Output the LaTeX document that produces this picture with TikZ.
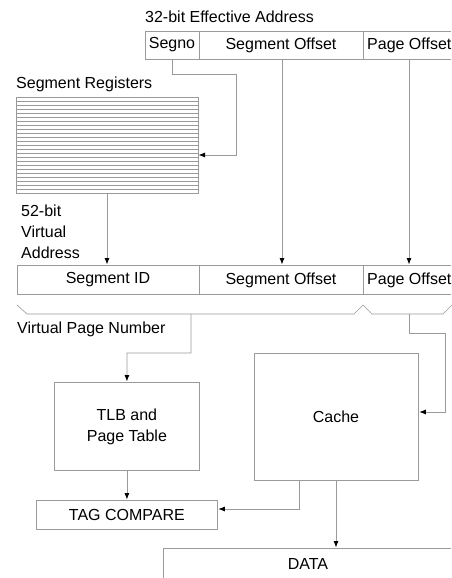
\documentclass[tikz,border=0pt]{standalone}
\usepackage{fontspec}
\setmainfont{Liberation Sans}
\usetikzlibrary{arrows.meta}
\definecolor{ln}{HTML}{9A9A9A}
\begin{document}
\begin{tikzpicture}[x=1pt,y=-1pt,
  wire/.style={draw=ln,line width=0.8pt},
  arr/.style={wire,-{Latex[length=6.5pt,width=5pt,color=black,fill=black]},shorten >=0.5pt},
  lbl/.style={inner sep=0pt,font=\fontsize{16}{18}\selectfont,text=black},
  boxed/.style={draw=ln,line width=0.8pt,inner sep=0pt}]
\useasboundingbox (0,0) rectangle (451,578);
% effective address
\node[lbl,anchor=west] (eatitle) at (145,17) {32-bit Effective Address};
\draw[wire] (451,31) -- (145,31) -- (145,59) -- (451,59);
\draw[wire] (199,31) -- (199,59) (363,31) -- (363,59);
\coordinate (eaSeg) at (172,59);
\coordinate (eaOff) at (282,59);
\coordinate (eaPO) at (409,59);
\node[lbl] (segno) at (172,45) {Segno};
\node[lbl] (eaoffset) at (281,45) {Segment Offset};
\node[lbl,anchor=west] (eapage) at (367,45) {Page Offset};
% segment registers
\node[lbl,anchor=west] (srtitle) at (16,84) {Segment Registers};
\node[boxed,minimum width=182pt,minimum height=96pt,anchor=north west] (regs) at (16,97) {};
\foreach \i in {1,...,23} \draw[wire,line width=0.6pt] (16,97+4*\i) -- (198,97+4*\i);
\coordinate (regin) at (198,155);
\coordinate (regout) at (107,193);
\draw[arr] (eaSeg) -- (172,74) -- (236,74) -- (236,155) -- (regin);
% 52-bit virtual address
\node[lbl,anchor=west] (l52) at (21,211) {52-bit};
\node[lbl,anchor=west] (lvirt) at (21,232) {Virtual};
\node[lbl,anchor=west] (laddr) at (21,253) {Address};
\draw[wire] (451,265) -- (17,265) -- (17,294) -- (451,294);
\draw[wire] (199,265) -- (199,294) (363,265) -- (363,294);
\node[lbl] (segid) at (108,280) {Segment ID};
\node[lbl] (vaoffset) at (281,280) {Segment Offset};
\node[lbl,anchor=west] (vapage) at (367,280) {Page Offset};
\coordinate (vaSeg) at (107,265);
\coordinate (vaOff) at (282,265);
\coordinate (vaPO) at (409,265);
\draw[arr] (regout) -- (vaSeg);
\draw[arr] (eaOff) -- (vaOff);
\draw[arr] (eaPO) -- (vaPO);
% braces
\draw[wire,line width=0.6pt] (17,305) -- (27,314) -- (354,314) -- (363,305) -- (372,314) -- (443,314) -- (452,305);
\node[lbl,anchor=west] (vpn) at (17,329) {Virtual Page Number};
% TLB, cache
\node[boxed,minimum width=145pt,minimum height=88pt,align=center,anchor=north west,
      font=\fontsize{16}{21}\selectfont] (tlb) at (54,382) {TLB and\\Page Table};
\node[boxed,minimum width=164pt,minimum height=127pt,anchor=north west] (cache) at (254,353) {};
\node[lbl] (cachetxt) at (336,417) {Cache};
\node[boxed,minimum width=181pt,minimum height=29pt,anchor=north west,
      font=\fontsize{16}{18}\selectfont] (tag) at (36,500) {TAG COMPARE};
\draw[arr] (191,314) -- (191,353) -- (127,353) -- (tlb.north);
\draw[arr] (409,314) -- (409,333) -- (445,333) -- (445,412) -- (cache.east |- 0,412);
\draw[arr] (tlb.south) -- (tag.north);
\draw[arr] (cache.south -| 299,0) -- (299,509) -- (tag.east |- 0,509);
% data
\draw[wire] (163,578) -- (163,548) -- (451,548);
\coordinate (datatop) at (336,548);
\node[lbl] (data) at (308,564) {DATA};
\draw[arr] (cache.south -| 336,0) -- (datatop);
\end{tikzpicture}
\end{document}
